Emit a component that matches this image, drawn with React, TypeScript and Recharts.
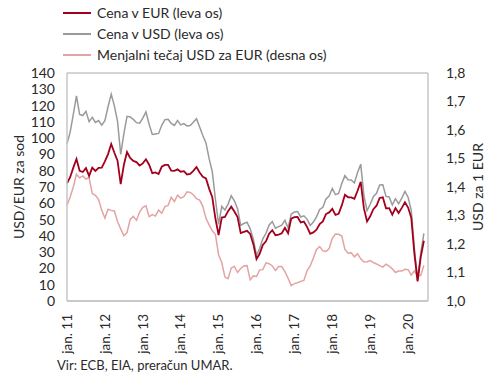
import { CartesianGrid, Label, Line, LineChart, XAxis, YAxis } from 'recharts'

// monthly values, jan 2011 .. jun 2020
const priceUsd = [
  96.5, 103.7, 114.6, 126.0, 114.5, 113.9, 116.5, 110.1, 112.8, 109.6, 110.8, 107.9,
  110.7, 119.3, 127.0, 119.8, 110.3, 90.0, 102.6, 113.4, 113.0, 111.5, 109.5, 109.2,
  112.3, 116.1, 108.5, 102.3, 102.6, 102.9, 107.9, 111.3, 111.6, 109.1, 107.8, 110.8,
  108.1, 108.9, 107.5, 107.8, 109.7, 111.9, 106.8, 101.6, 97.1, 87.4, 79.4, 62.3,
  47.0, 58.1, 55.9, 59.5, 64.6, 61.5, 56.6, 46.5, 47.6, 48.4, 44.3, 38.0,
  28.0, 32.2, 38.2, 41.6, 46.7, 48.8, 44.7, 45.7, 46.6, 49.5, 44.9, 53.3,
  54.6, 54.9, 51.6, 52.3, 50.3, 46.4, 48.5, 51.7, 56.2, 57.5, 62.7, 64.4,
  69.1, 65.3, 66.0, 72.1, 77.0, 74.4, 74.3, 72.5, 78.9, 84.0, 64.8, 55.5,
  59.4, 64.0, 66.1, 71.2, 71.3, 64.2, 63.9, 59.0, 62.8, 59.7, 63.2, 67.3,
  63.7, 55.7, 32.0, 13.0, 29.4, 41.5,
]

const priceEur = [
  72.2, 76.0, 81.9, 87.2, 80.0, 79.2, 81.6, 76.8, 81.9, 79.9, 81.7, 81.9,
  85.7, 90.2, 96.4, 91.0, 86.2, 71.8, 83.5, 91.5, 87.9, 86.0, 85.3, 83.2,
  84.5, 87.0, 83.7, 78.5, 79.0, 78.0, 82.5, 83.6, 83.6, 80.0, 79.9, 80.8,
  79.4, 79.7, 77.7, 78.1, 79.9, 82.3, 78.9, 76.3, 75.3, 69.0, 63.7, 50.5,
  40.5, 51.2, 51.6, 55.2, 57.9, 54.9, 51.5, 41.7, 42.4, 43.1, 41.2, 34.9,
  25.8, 29.0, 34.4, 36.7, 41.3, 43.5, 40.4, 40.8, 41.6, 44.9, 41.6, 50.6,
  51.5, 51.6, 48.3, 48.8, 45.5, 41.3, 42.1, 43.8, 47.2, 48.9, 53.4, 54.4,
  56.6, 52.9, 53.5, 58.7, 65.2, 63.7, 63.6, 62.8, 67.7, 73.2, 57.0, 48.8,
  52.0, 56.4, 58.5, 63.3, 63.7, 56.9, 57.0, 53.0, 57.1, 54.0, 57.2, 60.6,
  57.4, 51.1, 28.9, 12.0, 27.0, 37.0,
]

const usdPerEur = [
  1.336, 1.365, 1.400, 1.445, 1.432, 1.439, 1.428, 1.433, 1.377, 1.371, 1.356, 1.318,
  1.291, 1.322, 1.318, 1.316, 1.279, 1.253, 1.229, 1.240, 1.286, 1.297, 1.283, 1.312,
  1.329, 1.334, 1.296, 1.303, 1.298, 1.319, 1.308, 1.331, 1.335, 1.364, 1.349, 1.371,
  1.361, 1.366, 1.383, 1.381, 1.373, 1.359, 1.354, 1.332, 1.290, 1.267, 1.247, 1.233,
  1.162, 1.135, 1.084, 1.078, 1.116, 1.121, 1.100, 1.114, 1.123, 1.124, 1.074, 1.088,
  1.086, 1.109, 1.110, 1.134, 1.131, 1.123, 1.107, 1.121, 1.121, 1.103, 1.080, 1.054,
  1.061, 1.064, 1.069, 1.072, 1.106, 1.123, 1.151, 1.181, 1.191, 1.176, 1.174, 1.184,
  1.220, 1.235, 1.234, 1.228, 1.181, 1.168, 1.169, 1.155, 1.166, 1.148, 1.137, 1.138,
  1.142, 1.135, 1.130, 1.124, 1.119, 1.129, 1.122, 1.113, 1.100, 1.105, 1.105, 1.111,
  1.110, 1.091, 1.106, 1.087, 1.090, 1.125,
]

const yearLabels = ['jan. 11', 'jan. 12', 'jan. 13', 'jan. 14', 'jan. 15', 'jan. 16', 'jan. 17', 'jan. 18', 'jan. 19', 'jan. 20']
const leftTicks = [0, 10, 20, 30, 40, 50, 60, 70, 80, 90, 100, 110, 120, 130, 140]
const rightTicks = [1.0, 1.1, 1.2, 1.3, 1.4, 1.5, 1.6, 1.7, 1.8]

const legendItems = [
  { label: 'Cena v EUR (leva os)', color: '#a3001e' },
  { label: 'Cena v USD (leva os)', color: '#9a9a9a' },
  { label: 'Menjalni tečaj USD za EUR (desna os)', color: '#e3a3a3' },
]

const data = priceUsd.map((usd, i) => ({ t: i, usd, eur: priceEur[i], fx: usdPerEur[i] }))

const font = 'Lato, "Noto Sans", sans-serif'
const textColor = '#2a2a2a'
const gridColor = '#c6c6c6'

function MonthTick({ x, y, payload }: any) {
  const label = yearLabels[payload.value / 12]
  return (
    <text
      x={x}
      y={y + 5}
      dy="0.35em"
      transform={`rotate(-90, ${x}, ${y + 5})`}
      textAnchor="end"
      fontSize={13.5}
      fontFamily={font}
      fill={textColor}
    >
      {label}
    </text>
  )
}

export default function App() {
  return (
    <div style={{ position: 'absolute', left: 0, top: 0, width: 490, height: 378, background: '#fff', fontFamily: font }}>
      <div style={{ position: 'absolute', left: 63, top: 2 }}>
        {legendItems.map((item) => (
          <div key={item.label} style={{ display: 'flex', alignItems: 'center', height: 21, fontSize: 14, color: textColor }}>
            <span style={{ display: 'inline-block', width: 28, height: 2, background: item.color, marginRight: 6 }} />
            {item.label}
          </div>
        ))}
      </div>

      <LineChart width={490} height={378} data={data} margin={{ top: 73, right: 22, bottom: 17, left: 17 }}>
        <CartesianGrid stroke={gridColor} strokeWidth={1.5} vertical={false} />
        <XAxis
          dataKey="t"
          type="number"
          domain={[0, 114.3]}
          ticks={[0, 12, 24, 36, 48, 60, 72, 84, 96, 108]}
          tick={<MonthTick />}
          tickLine={false}
          axisLine={{ stroke: gridColor, strokeWidth: 1.5 }}
          height={60}
          interval={0}
        />
        <YAxis
          yAxisId="left"
          domain={[0, 140]}
          ticks={leftTicks}
          interval={0}
          width={50}
          tickLine={false}
          axisLine={{ stroke: gridColor, strokeWidth: 1.5 }}
          tick={{ fontSize: 14, fill: textColor, fontFamily: font }}
          tickMargin={6}
        >
          <Label
            value="USD/EUR za sod"
            angle={-90}
            position="center"
            dx={-23}
            style={{ fontSize: 14, fill: textColor, fontFamily: font }}
          />
        </YAxis>
        <YAxis
          yAxisId="right"
          orientation="right"
          domain={[1.0, 1.8]}
          ticks={rightTicks}
          interval={0}
          width={40}
          tickLine={false}
          axisLine={{ stroke: gridColor, strokeWidth: 1.5 }}
          tick={{ fontSize: 14, fill: textColor, fontFamily: font }}
          tickMargin={12}
          tickFormatter={(v: number) => v.toFixed(1).replace('.', ',')}
        >
          <Label
            value="USD za 1 EUR"
            angle={-90}
            position="center"
            dx={30}
            style={{ fontSize: 14, fill: textColor, fontFamily: font }}
          />
        </YAxis>
        <Line yAxisId="right" dataKey="fx" stroke="#e3a3a3" strokeWidth={1.5} dot={false} isAnimationActive={false} />
        <Line yAxisId="left" dataKey="usd" stroke="#9a9a9a" strokeWidth={1.5} dot={false} isAnimationActive={false} />
        <Line yAxisId="left" dataKey="eur" stroke="#a3001e" strokeWidth={1.8} dot={false} isAnimationActive={false} />
      </LineChart>

      <div style={{ position: 'absolute', left: 57, top: 357, fontSize: 13, color: textColor }}>
        Vir: ECB, EIA, preračun UMAR.
      </div>
    </div>
  )
}
